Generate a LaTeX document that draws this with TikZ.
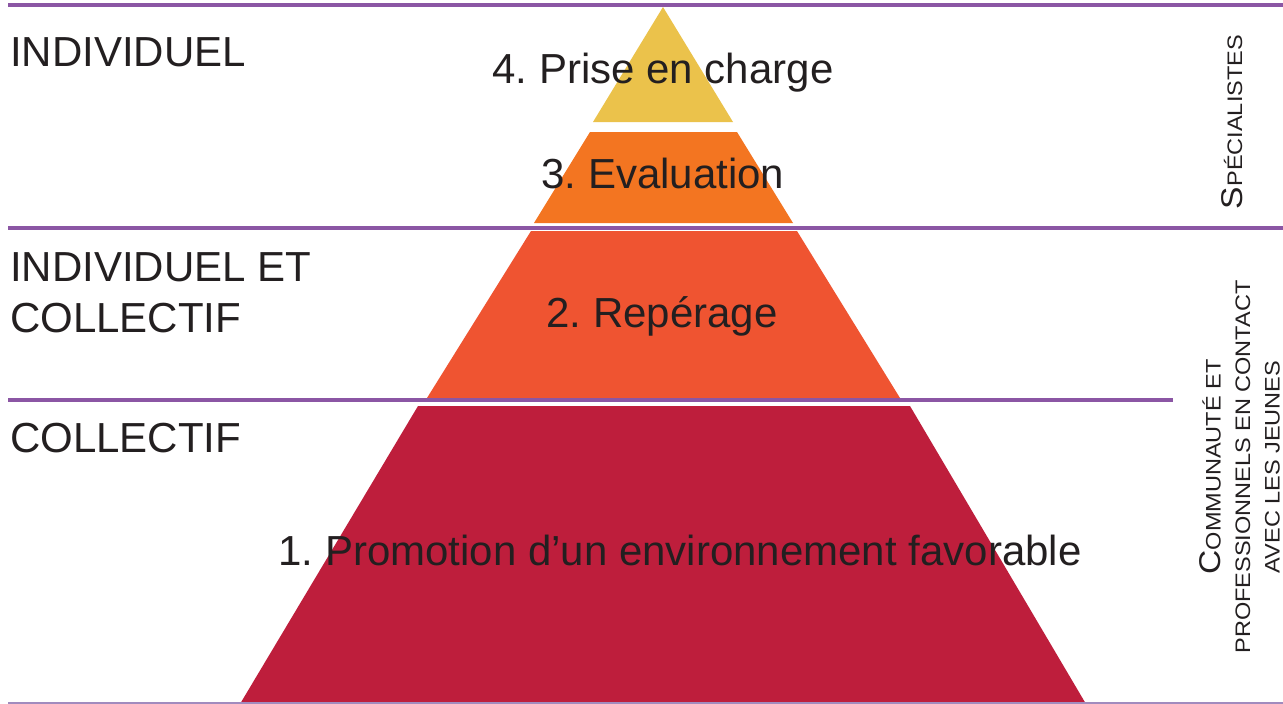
\documentclass[tikz,border=0pt]{standalone}
\usepackage{fontspec}
\setmainfont{Liberation Sans}
\newfontfamily\sidefont[FakeStretch=1.12]{Liberation Sans}
\usepackage{xcolor}
\frenchspacing

\definecolor{ruleviolet}{HTML}{8B56A4}
\definecolor{baseviolet}{HTML}{A18BBE}
\definecolor{layerfour}{HTML}{EBC24B}
\definecolor{layerthree}{HTML}{F37521}
\definecolor{layertwo}{HTML}{EF5431}
\definecolor{layerone}{HTML}{BE1E3C}
\definecolor{ink}{HTML}{231F20}

\begin{document}
\begin{tikzpicture}[x=1pt,y=-1pt,rule/.style={line width=4.5pt,draw=ruleviolet},layer text/.style={font=\fontsize{42}{51}\selectfont,text=ink,inner sep=0pt},side text/.style={font=\sidefont\fontsize{21}{29.5}\selectfont,text=ink,inner sep=0pt,rotate=90,align=center}]

            \useasboundingbox[fill=white] (0,0) rectangle (1283,704);

            % pyramid
            \fill[layerfour] (663,7) -- (733,122) -- (593,122) -- cycle;
            \fill[layerthree] (590,132) -- (737,132) -- (793,223) -- (534,223) -- cycle;
            \fill[layertwo] (531,231) -- (797,231) -- (900,398) -- (427,398) -- cycle;
            \fill[layerone] (418,406) -- (910,406) -- (1086,704) -- (240,704) -- cycle;

            % separators
            \coordinate (r1w) at (8,5);
            \coordinate (r1e) at (1283,5);
            \coordinate (r2w) at (8,228);
            \coordinate (r2e) at (1283,228);
            \coordinate (r3w) at (8,400);
            \coordinate (r3e) at (1173,400);
            \coordinate (r4w) at (8,703);
            \coordinate (r4e) at (1283,703);

            \draw[rule] (r1w) -- (r1e);
            \draw[rule] (r2w) -- (r2e);
            \draw[rule] (r3w) -- (r3e);
            \draw[line width=1.5pt,baseviolet] (r4w) -- (r4e);

            \node[layer text, anchor=base west] (ind) at (10,66) {INDIVIDUEL};
            \node[layer text, anchor=base west, align=left] (indcol) at (10,332) {INDIVIDUEL ET\\COLLECTIF};
            \node[layer text, anchor=base west] (col) at (10,452) {COLLECTIF};

            \node[layer text, anchor=base] (4) at (663,83) {4. Prise en charge};
            \node[layer text, anchor=base] (3) at (663,188) {3. Evaluation};
            \node[layer text, anchor=base] (2) at (662,327) {2. Repérage};
            \node[layer text, anchor=base] (1) at (680,565) {1. Promotion d’un environnement favorable};

            \node[side text, anchor=base] (spec) at (1242,122) {{\fontsize{30}{30}\selectfont S}PÉCIALISTES};
            \node[side text, anchor=south] (comm) at (1280,467) {{\fontsize{30}{30}\selectfont C}OMMUNAUTÉ ET\\PROFESSIONNELS EN CONTACT\\AVEC LES JEUNES};

            ;
        \end{tikzpicture}
\end{document}
